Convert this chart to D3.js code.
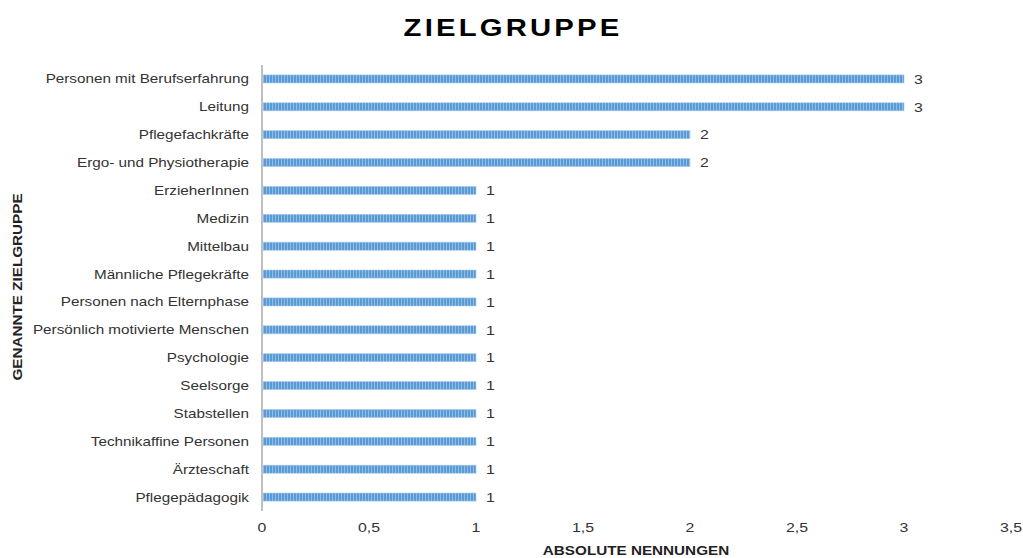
<!DOCTYPE html>
<html>
<head>
<meta charset="utf-8">
<script src="https://cdn.jsdelivr.net/npm/d3@7"></script>
<style>
  body { margin: 0; background: #fff; }
  text { font-family: "Liberation Sans", Arial, sans-serif; }
</style>
</head>
<body>
<div id="chart"></div>
<script>
// data
let categories = ["Personen mit Berufserfahrung", "Leitung", "Pflegefachkräfte ", "Ergo- und Physiotherapie",
  "ErzieherInnen", "Medizin", "Mittelbau", "Männliche Pflegekräfte", "Personen nach Elternphase",
  "Persönlich motivierte Menschen", "Psychologie", "Seelsorge", "Stabstellen", "Technikaffine Personen",
  "Ärzteschaft", "Pflegepädagogik"];
let values = [3, 3, 2, 2, 1, 1, 1, 1, 1, 1, 1, 1, 1, 1, 1, 1];
let xTicks = [0, 0.5, 1, 1.5, 2, 2.5, 3, 3.5];

let width = 1023, height = 558;
let margin = {top: 65, left: 262, right: 12, bottom: 47};
// the original text is drawn a bit wider than normal
let stretch = 1.22;

let svg = d3.select("#chart").append("svg")
  .attr("width", width)
  .attr("height", height);

// striped bar fill
let defs = svg.append("defs");
let pat = defs.append("pattern")
  .attr("id", "stripes")
  .attr("patternUnits", "userSpaceOnUse")
  .attr("width", 3).attr("height", 10);
pat.append("rect").attr("width", 3).attr("height", 10).attr("fill", "#5b9bd5");
pat.append("rect").attr("x", 2).attr("width", 1).attr("height", 10).attr("fill", "#8fbde8");

let x = d3.scaleLinear().domain([0, 3.5]).range([margin.left, 1011]);
let y = d3.scaleBand().domain(categories)
  .range([margin.top, height - margin.bottom])
  .paddingInner(0.71).paddingOuter(0.355);

function place(px, py, rot) {
  return "translate(" + px + "," + py + ")" + (rot ? " rotate(" + rot + ")" : "") + " scale(" + stretch + ",1)";
}

// title
svg.append("text")
  .attr("transform", place(513, 36))
  .attr("text-anchor", "middle")
  .style("font-size", "24px").style("font-weight", "bold")
  .style("letter-spacing", "2.6px")
  .attr("fill", "#000")
  .text("ZIELGRUPPE");

// bars
svg.append("g").selectAll("rect")
  .data(values)
  .enter().append("rect")
  .attr("x", x(0))
  .attr("y", (d, i) => y(categories[i]))
  .attr("width", d => x(d) - x(0))
  .attr("height", y.bandwidth())
  .attr("fill", "url(#stripes)")
  .attr("stroke", "#a9cbe9")
  .attr("stroke-width", 0.6);

// value labels
svg.append("g").selectAll("text")
  .data(values)
  .enter().append("text")
  .attr("transform", (d, i) => place(x(d) + 10, y(categories[i]) + y.bandwidth() / 2))
  .attr("dy", "0.36em")
  .style("font-size", "13px")
  .attr("fill", "#333")
  .text(d => d);

// y axis line + category labels
svg.append("line")
  .attr("x1", x(0)).attr("x2", x(0))
  .attr("y1", margin.top).attr("y2", height - margin.bottom)
  .attr("stroke", "#bfbfbf").attr("stroke-width", 2);

svg.append("g").selectAll("text")
  .data(categories)
  .enter().append("text")
  .attr("transform", d => place(249, y(d) + y.bandwidth() / 2))
  .attr("dy", "0.36em")
  .attr("text-anchor", "end")
  .style("font-size", "12.5px")
  .attr("fill", "#333")
  .text(d => d);

// x tick labels
svg.append("g").selectAll("text")
  .data(xTicks)
  .enter().append("text")
  .attr("transform", d => place(x(d), 532))
  .attr("text-anchor", "middle")
  .style("font-size", "13px")
  .attr("fill", "#333")
  .text(d => String(d).replace(".", ","));

// axis titles
svg.append("text")
  .attr("transform", place(636, 555))
  .attr("text-anchor", "middle")
  .style("font-size", "12.5px").style("font-weight", "bold")
  .attr("fill", "#222")
  .text("ABSOLUTE NENNUNGEN");

svg.append("text")
  .attr("transform", place(22, 287, -90))
  .attr("text-anchor", "middle")
  .style("font-size", "12.5px").style("font-weight", "bold")
  .attr("fill", "#222")
  .text("GENANNTE ZIELGRUPPE");
</script>
</body>
</html>
